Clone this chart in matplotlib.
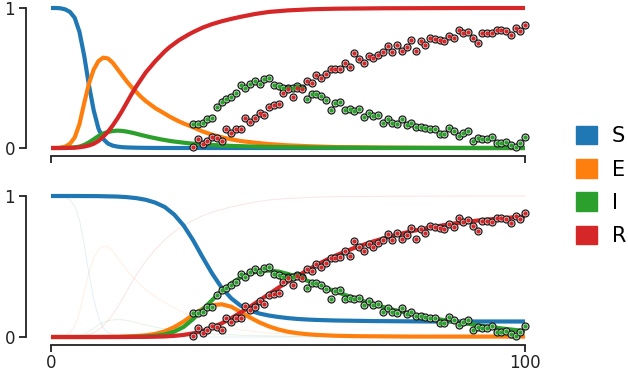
import matplotlib
matplotlib.use("Agg")
import matplotlib.pyplot as plt
from matplotlib.patches import Patch

# ---------------- data ----------------
labels = ["S", "E", "I", "R"]
colors = ["#1f77b4", "#ff7f0e", "#2ca02c", "#d62728"]

# top panel: fast initial model
top_t = [0, 1, 2, 3, 4, 5, 6, 7, 8, 9, 10, 11, 12, 13, 14, 15, 16, 17, 18, 19, 20,
         21, 22, 23, 24, 25, 26, 27, 28, 29, 30, 32, 34, 36, 38, 40, 43, 46, 50, 55,
         60, 70, 80, 90, 100]
top_S = [1.0, 1.0, 0.998, 0.99, 0.972, 0.93, 0.83, 0.66, 0.45, 0.27, 0.14, 0.065,
         0.032, 0.017, 0.01, 0.006, 0.004, 0.003, 0.002, 0.0015, 0.001, 0.0007,
         0.0005, 0.0003, 0.0002, 0.0001, 0, 0, 0, 0, 0, 0, 0, 0, 0, 0, 0, 0, 0, 0,
         0, 0, 0, 0, 0]
top_E = [0, 0, 0.002, 0.01, 0.03, 0.075, 0.17, 0.32, 0.46, 0.56, 0.62, 0.645, 0.64,
         0.61, 0.565, 0.52, 0.475, 0.435, 0.40, 0.365, 0.335, 0.31, 0.285, 0.265,
         0.245, 0.225, 0.207, 0.19, 0.175, 0.162, 0.148, 0.118, 0.095, 0.077, 0.062,
         0.05, 0.038, 0.028, 0.019, 0.012, 0.007, 0.003, 0.001, 0, 0]
top_I = [0, 0, 0, 0.001, 0.002, 0.005, 0.01, 0.022, 0.04, 0.062, 0.085, 0.103,
         0.115, 0.121, 0.124, 0.122, 0.117, 0.11, 0.102, 0.093, 0.085, 0.077, 0.07,
         0.063, 0.057, 0.051, 0.046, 0.042, 0.038, 0.034, 0.031, 0.026, 0.022, 0.018,
         0.015, 0.013, 0.01, 0.008, 0.006, 0.004, 0.003, 0.001, 0.0005, 0, 0]
top_R = [0, 0, 0, 0, 0.001, 0.002, 0.005, 0.01, 0.018, 0.03, 0.05, 0.08, 0.115, 0.16,
         0.21, 0.265, 0.325, 0.385, 0.44, 0.49, 0.54, 0.58, 0.62, 0.655, 0.69, 0.72,
         0.745, 0.77, 0.79, 0.81, 0.828, 0.86, 0.885, 0.905, 0.922, 0.937, 0.957,
         0.972, 0.983, 0.991, 0.995, 0.998, 0.999, 1.0, 1.0]

# bottom panel: fitted model
bot_t = [0, 5, 10, 14, 16, 18, 20, 22, 24, 26, 28, 30, 32, 34, 36, 38, 40, 42, 44,
         46, 48, 50, 52, 54, 56, 58, 60, 64, 68, 72, 76, 80, 85, 90, 95, 100]
bot_S = [1.0, 1.0, 0.999, 0.996, 0.992, 0.985, 0.973, 0.953, 0.922, 0.868, 0.79,
         0.685, 0.565, 0.45, 0.35, 0.275, 0.222, 0.188, 0.166, 0.152, 0.142, 0.134,
         0.128, 0.124, 0.121, 0.119, 0.117, 0.115, 0.113, 0.112, 0.111, 0.11, 0.11,
         0.11, 0.11, 0.11]
bot_E = [0, 0, 0, 0.002, 0.004, 0.007, 0.012, 0.022, 0.04, 0.07, 0.11, 0.158, 0.2,
         0.226, 0.232, 0.215, 0.178, 0.138, 0.103, 0.075, 0.053, 0.037, 0.027, 0.02,
         0.015, 0.012, 0.009, 0.006, 0.005, 0.004, 0.003, 0.003, 0.003, 0.003, 0.003,
         0.003]
bot_I = [0, 0, 0, 0, 0.001, 0.002, 0.004, 0.009, 0.018, 0.038, 0.072, 0.128, 0.195,
         0.262, 0.325, 0.38, 0.422, 0.451, 0.467, 0.471, 0.464, 0.447, 0.425, 0.4,
         0.375, 0.349, 0.323, 0.275, 0.232, 0.195, 0.163, 0.136, 0.108, 0.084, 0.061,
         0.042]
bot_R = [0, 0, 0, 0, 0, 0.001, 0.001, 0.002, 0.004, 0.008, 0.015, 0.026, 0.043,
         0.067, 0.097, 0.133, 0.173, 0.215, 0.26, 0.305, 0.35, 0.393, 0.432, 0.472,
         0.51, 0.545, 0.577, 0.632, 0.678, 0.717, 0.75, 0.777, 0.805, 0.826, 0.842,
         0.855]

# observed data (days 30..100)
obs_t = list(range(30, 101))
obs_I = [0.171, 0.169, 0.18, 0.21, 0.216, 0.295, 0.33, 0.35, 0.366, 0.39,
         0.45, 0.426, 0.46, 0.48, 0.46, 0.49, 0.50, 0.45, 0.44, 0.426,
         0.426, 0.426, 0.44, 0.426, 0.35, 0.386, 0.384, 0.371, 0.343, 0.271,
         0.324, 0.331, 0.271, 0.276, 0.266, 0.28, 0.224, 0.252, 0.229, 0.236,
         0.176, 0.205, 0.176, 0.171, 0.205, 0.164, 0.18, 0.152, 0.152, 0.145,
         0.133, 0.133, 0.098, 0.10, 0.145, 0.124, 0.088, 0.105, 0.121, 0.05,
         0.074, 0.062, 0.062, 0.081, 0.038, 0.033, 0.045, 0.021, 0.01, 0.038,
         0.081]
obs_R = [0.01, 0.062, 0.026, 0.05, 0.081, 0.074, 0.052, 0.133, 0.105, 0.133,
         0.136, 0.217, 0.188, 0.212, 0.252, 0.236, 0.295, 0.307, 0.314, 0.39,
         0.42, 0.367, 0.43, 0.42, 0.48, 0.466, 0.52, 0.50, 0.526, 0.562,
         0.562, 0.564, 0.61, 0.576, 0.68, 0.636, 0.61, 0.657, 0.64, 0.664,
         0.688, 0.729, 0.688, 0.736, 0.695, 0.724, 0.771, 0.693, 0.764, 0.736,
         0.788, 0.779, 0.771, 0.764, 0.802, 0.783, 0.843, 0.819, 0.831, 0.788,
         0.752, 0.824, 0.824, 0.819, 0.843, 0.843, 0.838, 0.807, 0.855, 0.836,
         0.879]

# ---------------- figure ----------------
W, H = 628, 372
fig = plt.figure(figsize=(W / 100, H / 100), dpi=100)

def px_axes(x0, x1, ytop, ybot):
    return fig.add_axes([x0 / W, 1 - ybot / H, (x1 - x0) / W, (ybot - ytop) / H])

ax1 = px_axes(51, 525, 8, 148)
ax2 = px_axes(51, 525, 196, 337)

top_series = [top_S, top_E, top_I, top_R]
bot_series = [bot_S, bot_E, bot_I, bot_R]


def draw_obs(ax):
    for vals, c in [(obs_I, colors[2]), (obs_R, colors[3])]:
        ax.plot(obs_t, vals, ls="none", marker="o", ms=5.0, mfc="white",
                mec="#1a1a1a", mew=0.9, zorder=5, clip_on=False)
        ax.plot(obs_t, vals, ls="none", marker="o", ms=3.2, mfc=c,
                mec="none", zorder=6, clip_on=False)


for vals, c in zip(top_series, colors):
    ax1.plot(top_t, vals, color=c, lw=3.0, clip_on=False, solid_capstyle="butt",
             solid_joinstyle="round")
draw_obs(ax1)

for vals, c in zip(top_series, colors):
    ax2.plot(top_t, vals, color=c, lw=0.7, alpha=0.12, clip_on=False)
for vals, c in zip(bot_series, colors):
    ax2.plot(bot_t, vals, color=c, lw=3.0, clip_on=False, solid_capstyle="butt",
             solid_joinstyle="round")
draw_obs(ax2)

for ax in (ax1, ax2):
    ax.set_xlim(0, 100)
    ax.set_ylim(0, 1)
    for s in ("top", "right"):
        ax.spines[s].set_visible(False)
    ax.spines["left"].set_position(("outward", 18))
    ax.spines["bottom"].set_position(("outward", 5.5))
    ax.spines["left"].set_bounds(0, 1)
    ax.spines["bottom"].set_bounds(0, 100)
    for s in ("left", "bottom"):
        ax.spines[s].set_linewidth(1.3)
        ax.spines[s].set_color("#222222")
    ax.set_yticks([0, 1])
    ax.set_yticklabels(["0", "1"])
    ax.set_xticks([0, 100])
    ax.tick_params(axis="both", length=5, width=1.3, color="#222222",
                   labelsize=12, pad=3, labelcolor="#222222")
    ax.tick_params(axis="x", pad=2)
    ax.patch.set_visible(False)

ax1.set_xticklabels([])
ax2.set_xticklabels(["0", "100"])

handles = [Patch(facecolor=c, edgecolor=c, label=l) for c, l in zip(colors, labels)]
fig.legend(handles=handles, loc="center left", bbox_to_anchor=(568 / W, 0.5),
           frameon=False, fontsize=15, handlelength=1.0, handleheight=1.0,
           handletextpad=0.7, labelspacing=0.62, borderaxespad=0)

fig.savefig("out.png", dpi=100)
